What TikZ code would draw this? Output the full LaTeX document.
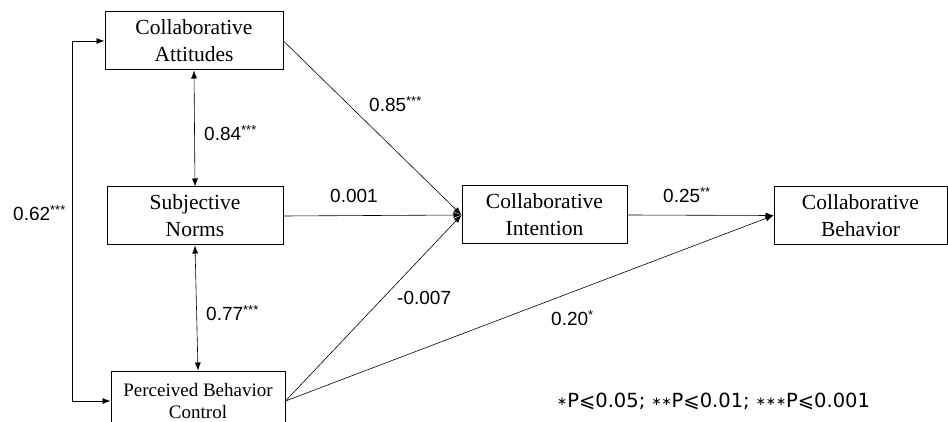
\documentclass[tikz,border=0pt]{standalone}
\usepackage{fontspec}
\setmainfont{Liberation Serif}
\newfontfamily\coeffont{Liberation Sans}
\newfontfamily\notefont{DejaVu Sans}
\usetikzlibrary{arrows.meta}
\newcommand{\sig}[1]{\raisebox{5.5pt}{\fontsize{13}{13}\selectfont #1}}
\newcommand{\notestar}{\raisebox{2pt}{\fontsize{12}{12}\selectfont ∗}}

\begin{document}
\begin{tikzpicture}[x=1pt, y=-1pt, >={Latex[length=8pt,width=6pt]},
	box/.style={draw, line width=1pt, align=center, inner sep=0pt, minimum height=58pt, font=\fontsize{21.5}{27}\selectfont},
	coef/.style={anchor=west, inner sep=0pt, font=\coeffont\fontsize{19}{19}\selectfont},
	path/.style={line width=0.6pt}]
	\useasboundingbox (0, 0) rectangle (948, 422);
	\clip (0, 0) rectangle (948, 422);
	\node[box, minimum width=178pt] (1) at (194, 41) {Collaborative\\Attitudes};
	\node[box, minimum width=176pt] (2) at (195, 216) {Subjective\\Norms};
	\node[box, minimum width=174pt, minimum height=60pt, font=\fontsize{19}{22}\selectfont] (3) at (198, 401) {Perceived Behavior\\Control};
	\node[box, minimum width=165pt] (4) at (544.5, 215) {Collaborative\\Intention};
	\node[box, minimum width=173pt] (5) at (860.5, 215.5) {Collaborative\\Behavior};
	\node[coef] (6) at (13, 213) {0.62\sig{***}};
	\node[coef] (7) at (204, 133) {0.84\sig{***}};
	\node[coef] (8) at (206, 313) {0.77\sig{***}};
	\node[coef] (9) at (369, 104) {0.85\sig{***}};
	\node[coef] (10) at (330, 196) {0.001};
	\node[coef] (11) at (397, 298) {-0.007};
	\node[coef] (12) at (551, 318) {0.20\sig{*}};
	\node[coef] (13) at (663, 195) {0.25\sig{**}};
	\node[anchor=west, inner sep=0pt, font=\notefont\fontsize{19.5}{19.5}\selectfont] (14) at (557, 401) {\notestar P⩽0.05; \notestar\notestar P⩽0.01; \notestar\notestar\notestar P⩽0.001};
	\draw[path, <->] (1.west) -- ++(-32, 0) |- (3.west);
	\draw[path, <->] (1.south) to (2.north);
	\draw[path, <->] (2.south) to (3.north);
	\draw[path, ->] (1.east) to (4.west);
	\draw[path, ->] (2.east) to (4.west);
	\draw[path, ->] (3.east) to (4.west);
	\draw[path, ->] (3.east) to (5.west);
	\draw[path, ->] (4.east) to (5.west);
\end{tikzpicture}
\end{document}
